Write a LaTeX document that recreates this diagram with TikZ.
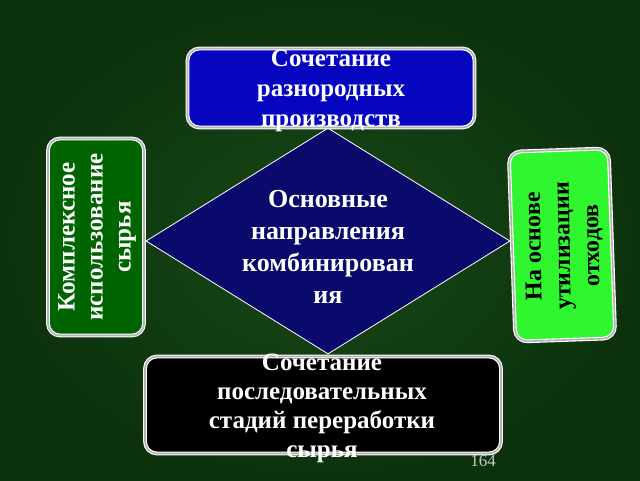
\documentclass[tikz,border=0pt]{standalone}
\usepackage{fontspec}
\setmainfont{Liberation Serif}
\usetikzlibrary{shapes.geometric}
\begin{document}
\begin{tikzpicture}[x=1pt,y=-1pt,
  box/.style={draw=white, double=gray!60, double distance=1.6pt, line width=1.1pt, rounded corners=12pt, inner sep=0pt},
  boxtext/.style={text=white, align=center, inner sep=0pt, font=\bfseries\fontsize{25}{30}\selectfont}]
\definecolor{bglight}{RGB}{24,72,24}
\definecolor{bgdark}{RGB}{12,50,12}
\definecolor{mixblue}{RGB}{6,6,192}
\definecolor{coreblue}{RGB}{10,10,108}
\definecolor{rawgreen}{RGB}{0,100,0}
\definecolor{wastegreen}{RGB}{48,246,48}
\useasboundingbox (0,0) rectangle (640,480);
\fill[inner color=bglight, outer color=bgdark] (0,0) rectangle (640,480);
\node[text=gray!45, inner sep=0pt, font=\fontsize{17}{17}\selectfont] (page) at (483,461) {164};
% centre
\node[diamond, draw=white, line width=0.8pt, fill=coreblue, minimum width=364pt, minimum height=226pt, inner sep=0pt] (core) at (328,241) {};
% boxes round the centre
\node[box, fill=mixblue, minimum width=287pt, minimum height=79pt] (mix) at (331,88) {};
\node[box, fill=rawgreen, minimum width=96pt, minimum height=197pt] (raw) at (96,237) {};
\node[box, fill=wastegreen, minimum width=100pt, minimum height=190pt, rotate=2] (waste) at (562,245) {};
\node[box, fill=black, minimum width=356pt, minimum height=97pt] (stage) at (323,405) {};
% texts
\node[boxtext] (mixtext) at (mix.center) [yshift=-3pt] {Сочетание\\разнородных\\производств};
\node[boxtext, font=\bfseries\fontsize{26}{32}\selectfont] (coretext) at (328,247) {Основные\\направления\\комбинирован\\ия};
\node[boxtext, rotate=90, font=\bfseries\fontsize{25}{28}\selectfont] (rawtext) at (97,237) {Комплексное\\использование\\сырья};
\node[boxtext, text=black, rotate=91, font=\bfseries\fontsize{24}{29}\selectfont] (wastetext) at (564,246) {На основе\\утилизации\\отходов};
\node[boxtext, font=\bfseries\fontsize{25}{29}\selectfont] (stagetext) at (322,408) {Сочетание\\последовательных\\стадий переработки\\сырья};
\end{tikzpicture}
\end{document}
